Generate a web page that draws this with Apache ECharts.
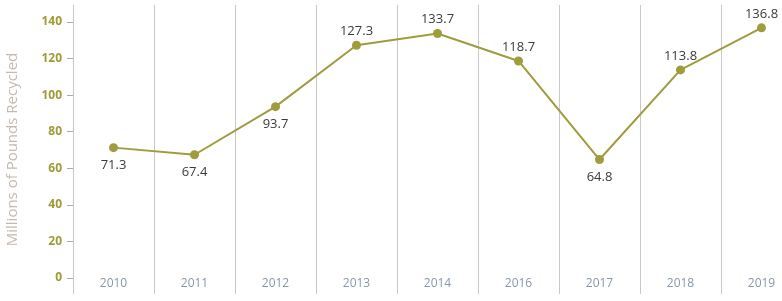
<!DOCTYPE html>
<html>
<head>
<meta charset="utf-8">
<script src="https://cdn.jsdelivr.net/npm/echarts@6/dist/echarts.min.js"></script>
<style>
  html, body { margin: 0; padding: 0; background: #fff; }
  #chart { width: 782px; height: 301px; }
</style>
</head>
<body>
<div id="chart"></div>
<script>
// data
var years = ['2010', '2011', '2012', '2013', '2014', '2016', '2017', '2018', '2019'];
var pounds = [71.3, 67.4, 93.7, 127.3, 133.7, 118.7, 64.8, 113.8, 136.8];
var labelSide = ['bottom', 'bottom', 'bottom', 'top', 'top', 'top', 'bottom', 'top', 'top'];
var yTicks = [0, 20, 40, 60, 80, 100, 120, 140];

var chart = echarts.init(document.getElementById('chart'));
var option = {
    animation: false,
    grid: {
        left: 73,
        top: 5,
        bottom: 7,
        width: 81 * years.length,
        outerBoundsMode: 'none',
        containLabel: false
    },
    xAxis: {
        type: 'category',
        data: years,
        boundaryGap: true,
        axisLine: { show: false },
        axisTick: { show: false },
        axisLabel: {
            inside: true,
            margin: 4,
            color: '#8797ab',
            fontFamily: 'Open Sans',
            fontSize: 12
        },
        splitLine: {
            show: true,
            lineStyle: { color: '#c9c9c9', width: 1 }
        }
    },
    yAxis: {
        type: 'value',
        min: -8.75,
        max: 149.3,
        name: 'Millions of Pounds Recycled',
        nameLocation: 'middle',
        nameGap: 53,
        nameTextStyle: {
            color: '#c4b9ae',
            fontFamily: 'Open Sans',
            fontSize: 15
        },
        axisLine: { show: false },
        axisTick: {
            show: true,
            length: 6,
            customValues: yTicks,
            lineStyle: { color: '#aaaaaa' }
        },
        axisLabel: {
            margin: 11,
            customValues: yTicks,
            color: '#9d9b35',
            fontFamily: 'Open Sans',
            fontWeight: 'bold',
            fontSize: 12
        },
        splitLine: { show: false }
    },
    series: [
        {
            type: 'line',
            data: pounds.map(function (v, i) {
                var below = labelSide[i] === 'bottom';
                return {
                    value: v,
                    label: { position: labelSide[i], distance: below ? 7 : 3 }
                };
            }),
            symbol: 'circle',
            symbolSize: 9,
            lineStyle: { color: '#9e9c3c', width: 2 },
            itemStyle: { color: '#9e9c3c' },
            label: {
                show: true,
                color: '#3a3a3a',
                fontFamily: 'Open Sans',
                fontSize: 13
            }
        }
    ]
};
chart.setOption(option);
</script>
</body>
</html>
